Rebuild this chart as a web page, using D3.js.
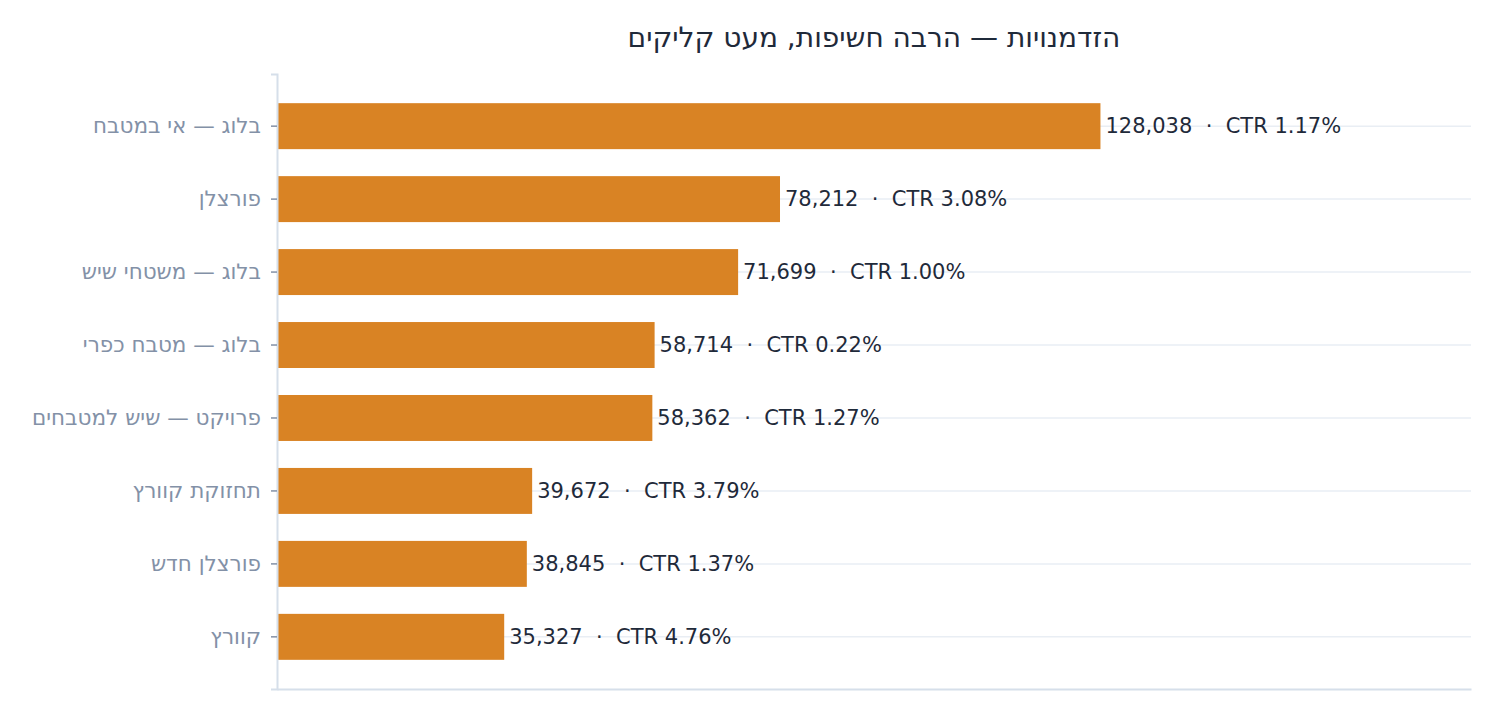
<!DOCTYPE html>
<html>
<head>
<meta charset="utf-8">
<script src="https://cdn.jsdelivr.net/npm/d3@7"></script>
<style>
  body { margin: 0; background: #fff; }
  text { font-family: "DejaVu Sans", sans-serif; }
</style>
</head>
<body>
<div id="container"></div>
<script>
// data
const pages = [
  "בלוג — אי במטבח",
  "פורצלן",
  "בלוג — משטחי שיש",
  "בלוג — מטבח כפרי",
  "פרויקט — שיש למטבחים",
  "תחזוקת קוורץ",
  "פורצלן חדש",
  "קוורץ"
];
const impressions = [128038, 78212, 71699, 58714, 58362, 39672, 38845, 35327];
const ctr = [1.17, 3.08, 1.00, 0.22, 1.27, 3.79, 1.37, 4.76];

const chartTitle = "הזדמנויות — הרבה חשיפות, מעט קליקים";

let w = 1496;
let h = 714;
let margin = {top: 74, right: 25, bottom: 25, left: 277};

let viz = d3.select("#container")
  .append("svg")
    .attr("width", w)
    .attr("height", h)
;

let rows = pages.map((p, i) => ({page: p, value: impressions[i], ctr: ctr[i]}));

let xScale = d3.scaleLinear()
  .domain([0, d3.max(impressions) * 1.45])
  .range([margin.left, w - margin.right]);

let yScale = d3.scaleBand()
  .domain(pages)
  .range([margin.top, h - margin.bottom])
  .paddingInner(0.37)
  .paddingOuter(0.4);

// title
viz.append("text")
  .attr("x", (margin.left + w - margin.right) / 2)
  .attr("y", 47)
  .attr("text-anchor", "middle")
  .attr("fill", "#1f2a3a")
  .attr("font-size", 28)
  .text(chartTitle);

// grid lines through each row
viz.append("g").selectAll("line")
  .data(pages)
  .enter()
  .append("line")
    .attr("x1", margin.left)
    .attr("x2", w - margin.right)
    .attr("y1", d => yScale(d) + yScale.bandwidth() / 2)
    .attr("y2", d => yScale(d) + yScale.bandwidth() / 2)
    .attr("stroke", "#e9eef4")
    .attr("stroke-width", 1.5)
;

// bars
viz.append("g").selectAll("rect")
  .data(rows)
  .enter()
  .append("rect")
    .attr("x", xScale(0))
    .attr("y", d => yScale(d.page))
    .attr("width", d => xScale(d.value) - xScale(0))
    .attr("height", yScale.bandwidth())
    .attr("fill", "#d98324")
;

// value labels
viz.append("g").selectAll("text")
  .data(rows)
  .enter()
  .append("text")
    .attr("x", d => xScale(d.value) + 5)
    .attr("y", d => yScale(d.page) + yScale.bandwidth() / 2)
    .attr("dy", "0.33em")
    .attr("fill", "#1f2a3a")
    .attr("font-size", 21)
    .style("white-space", "pre")
    .text(d => d3.format(",")(d.value) + "  ·  CTR " + d.ctr.toFixed(2) + "%")
;

// y axis
let yAxis = viz.append("g")
  .attr("transform", `translate(${margin.left},0)`)
  .call(d3.axisLeft(yScale).tickSize(6).tickPadding(10));
yAxis.select(".domain").attr("stroke", "#d6dfea").attr("stroke-width", 2);
yAxis.selectAll(".tick line").attr("stroke", "#8391a7").attr("stroke-width", 1.5);
yAxis.selectAll(".tick text")
  .attr("fill", "#8391a7")
  .attr("font-size", 21.5)
  .attr("font-family", "DejaVu Sans, sans-serif");

// bottom axis line only
let xAxis = viz.append("g")
  .attr("transform", `translate(0,${h - margin.bottom})`)
  .call(d3.axisBottom(xScale).ticks(0).tickSize(0).tickFormat(""));
xAxis.select(".domain").attr("stroke", "#d6dfea").attr("stroke-width", 2);
</script>
</body>
</html>
